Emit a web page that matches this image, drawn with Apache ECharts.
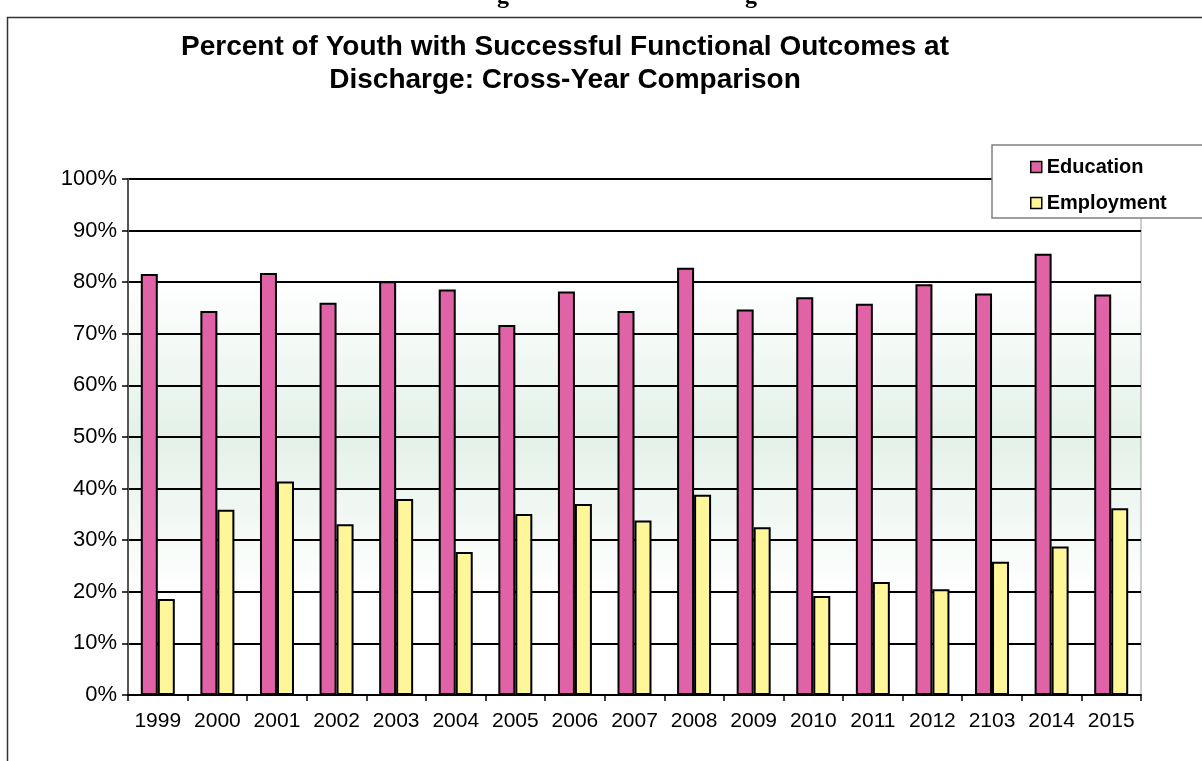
<!DOCTYPE html>
<html>
<head>
<meta charset="utf-8">
<title>Functional Outcomes at Discharge</title>
<script src="https://cdn.jsdelivr.net/npm/echarts@6/dist/echarts.min.js"></script>
<style>
  html, body { margin: 0; padding: 0; background: #fff; }
  #chart { width: 1202px; height: 761px; }
</style>
</head>
<body>
<div id="chart"></div>
<script>
// 数据
const years = ['1999', '2000', '2001', '2002', '2003', '2004', '2005', '2006', '2007', '2008', '2009', '2010', '2011', '2012', '2103', '2014', '2015'];
const education = [81.6, 74.4, 81.8, 76.0, 80.2, 78.6, 71.7, 78.2, 74.4, 82.8, 74.7, 77.1, 75.8, 79.6, 77.8, 85.5, 77.6];
const employment = [18.6, 35.9, 41.4, 33.1, 38.0, 27.7, 35.1, 37.0, 33.8, 38.8, 32.5, 19.2, 21.9, 20.5, 25.8, 28.8, 36.2];
const titleLines = ['Percent of Youth with Successful Functional Outcomes at', 'Discharge: Cross-Year Comparison'];

const chart = echarts.init(document.getElementById('chart'));
const FONT = 'Liberation Sans, Arial, sans-serif';

// 绘图区背景: 20%~80% 之间淡绿色渐变
const plotBg = new echarts.graphic.LinearGradient(0, 0, 0, 1, [
  { offset: 0, color: '#ffffff' },
  { offset: 0.2, color: '#ffffff' },
  { offset: 0.5, color: '#e3f1e8' },
  { offset: 0.8, color: '#ffffff' },
  { offset: 1, color: '#ffffff' }
]);

const option = {
  backgroundColor: '#fff',
  animation: false,
  title: {
    text: titleLines.join('\n'),
    left: 560,
    textAlign: 'center',
    top: 26,
    textStyle: { fontFamily: FONT, fontSize: 28, fontWeight: 'bold', color: '#000', lineHeight: 33 }
  },
  legend: {
    data: ['Education', 'Employment'],
    orient: 'vertical',
    left: 1025,
    top: 152,
    icon: 'rect',
    itemWidth: 11,
    itemHeight: 11,
    itemGap: 16,
    z: 20,
    itemStyle: { borderColor: '#000', borderWidth: 1.5 },
    textStyle: { fontFamily: FONT, fontSize: 20, fontWeight: 'bold', color: '#000' }
  },
  grid: {
    left: 128, right: 61, top: 179, bottom: 66,
    show: true,
    backgroundColor: plotBg,
    borderColor: '#9a9a9a',
    borderWidth: 1
  },
  xAxis: {
    type: 'category',
    data: years,
    axisLine: { lineStyle: { color: '#000', width: 2 } },
    axisTick: { show: true, interval: 0, length: 6, lineStyle: { color: '#000', width: 1.5 } },
    axisLabel: { interval: 0, margin: 16, fontFamily: FONT, fontSize: 21, color: '#000' }
  },
  yAxis: {
    type: 'value',
    min: 0,
    max: 100,
    interval: 10,
    axisLine: { show: true, lineStyle: { color: '#555', width: 2 } },
    axisTick: { show: true, length: 6, lineStyle: { color: '#000', width: 1.5 } },
    axisLabel: { margin: 11, fontFamily: FONT, fontSize: 22, color: '#000', formatter: '{value}%' },
    splitLine: { lineStyle: { color: '#000', width: 2 } }
  },
  series: [
    {
      name: 'Education', type: 'bar', data: education,
      barWidth: 17, barGap: '0%',
      itemStyle: { color: '#df63a6', borderColor: '#000', borderWidth: 2 }
    },
    {
      name: 'Employment', type: 'bar', data: employment,
      barWidth: 17,
      itemStyle: { color: '#fff599', borderColor: '#000', borderWidth: 2 }
    }
  ],
  graphic: [
    // 外框 (右侧与底部超出画面)
    { type: 'rect', z: 1, shape: { x: 7.5, y: 17.5, width: 1400, height: 1000 },
      style: { fill: 'none', stroke: '#333', lineWidth: 1.5 } },
    // 图例框
    { type: 'rect', z: 10, shape: { x: 992, y: 145, width: 260, height: 73 },
      style: { fill: '#fff', stroke: '#808080', lineWidth: 1.5 } },
    // 顶部被裁切的标题残字
    { type: 'text', z: 1, x: 497, y: 9,
      style: { text: 'g', font: 'bold 24px Liberation Serif, serif', fill: '#000', verticalAlign: 'bottom' } },
    { type: 'text', z: 1, x: 745, y: 9,
      style: { text: 'g', font: 'bold 24px Liberation Serif, serif', fill: '#000', verticalAlign: 'bottom' } }
  ]
};

chart.setOption(option);
window.onresize = () => chart.resize();
</script>
</body>
</html>
